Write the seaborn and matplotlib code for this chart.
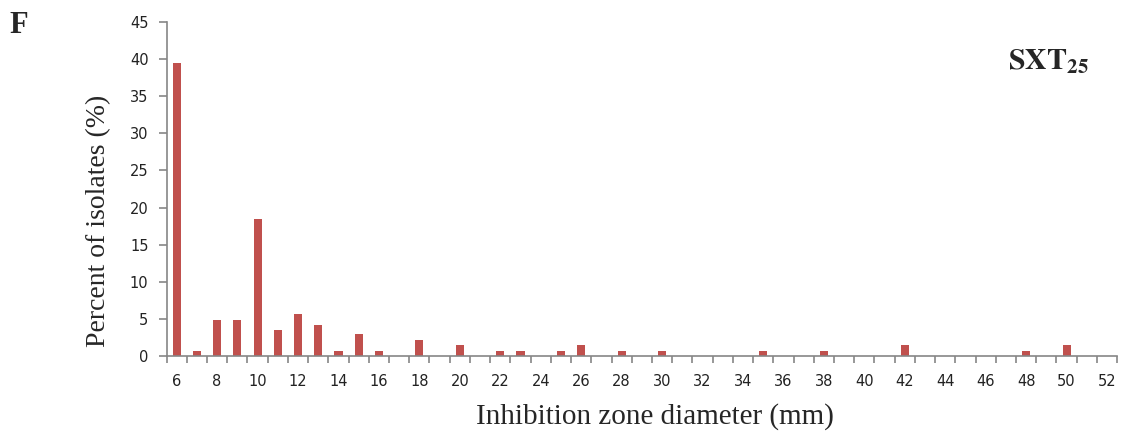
import matplotlib
matplotlib.use("Agg")
import matplotlib.pyplot as plt
import seaborn as sns
import pandas as pd

# zone diameters (mm) with isolates; every other diameter 6..52 is zero
diametros = [6, 7, 8, 9, 10, 11, 12, 13, 14, 15, 16, 18, 20, 22, 23, 25, 26,
             28, 30, 35, 38, 42, 48, 50]
percentuais = [39.4, 0.75, 4.9, 4.9, 18.5, 3.5, 5.7, 4.2, 0.75, 3.0, 0.75,
               2.2, 1.5, 0.75, 0.75, 0.75, 1.5, 0.75, 0.75, 0.75, 0.75, 1.5,
               0.75, 1.5]
categorias = list(range(6, 53))

valores = dict(zip(diametros, percentuais))
df = pd.DataFrame({
    "diametro": [str(c) for c in categorias],
    "percentual": [valores.get(c, 0.0) for c in categorias],
})

sns.set_style("white")
plt.rcParams["font.family"] = ["DejaVu Sans"]

fig = plt.figure(figsize=(11.33, 4.36), dpi=100)
ax = fig.add_axes([0.147, 0.183, 0.839, 0.767])

sns.barplot(data=df, x="diametro", y="percentual", color="#C0504D",
            width=0.4, saturation=1, linewidth=0, ax=ax)

cinza = "#868686"
ax.set_ylim(0, 45)
ax.set_yticks(range(0, 46, 5))
ax.set_xlim(-0.5, len(categorias) - 0.5)

# labels every 2 mm at category centres, tick marks between categories
pos_lab = [i for i, c in enumerate(categorias) if c % 2 == 0]
ax.set_xticks(pos_lab)
ax.set_xticklabels([str(categorias[i]) for i in pos_lab])
ax.set_xticks([i - 0.5 for i in range(len(categorias) + 1)], minor=True)
ax.tick_params(axis="x", which="major", bottom=True, length=0, pad=13,
               labelsize=10.5, labelcolor="#222222")
ax.tick_params(axis="x", which="minor", bottom=True, length=5, width=1.2,
               color=cinza, direction="out")
ax.tick_params(axis="y", left=True, length=6, width=1.2, color=cinza,
               direction="out", labelsize=10.5, labelcolor="#222222", pad=7)

for lado in ["top", "right"]:
    ax.spines[lado].set_visible(False)
for lado in ["left", "bottom"]:
    ax.spines[lado].set_color(cinza)
    ax.spines[lado].set_linewidth(1.2)

serif = ["Liberation Serif", "DejaVu Serif"]
ax.set_xlabel("Inhibition zone diameter (mm)", family=serif, fontsize=21)
ax.set_ylabel("Percent of isolates (%)", family=serif, fontsize=20)
ax.xaxis.set_label_coords(0.514, -0.14)
ax.yaxis.set_label_coords(-0.058, 0.405)

fig.text(0.008, 0.925, "F", family=serif, fontsize=22, fontweight="bold")
ax.text(0.97, 0.88, r"$\mathbf{SXT_{25}}$", transform=ax.transAxes,
        ha="right", va="center", fontsize=21.5, math_fontfamily="stix")

fig.savefig("out.png", dpi=100)
